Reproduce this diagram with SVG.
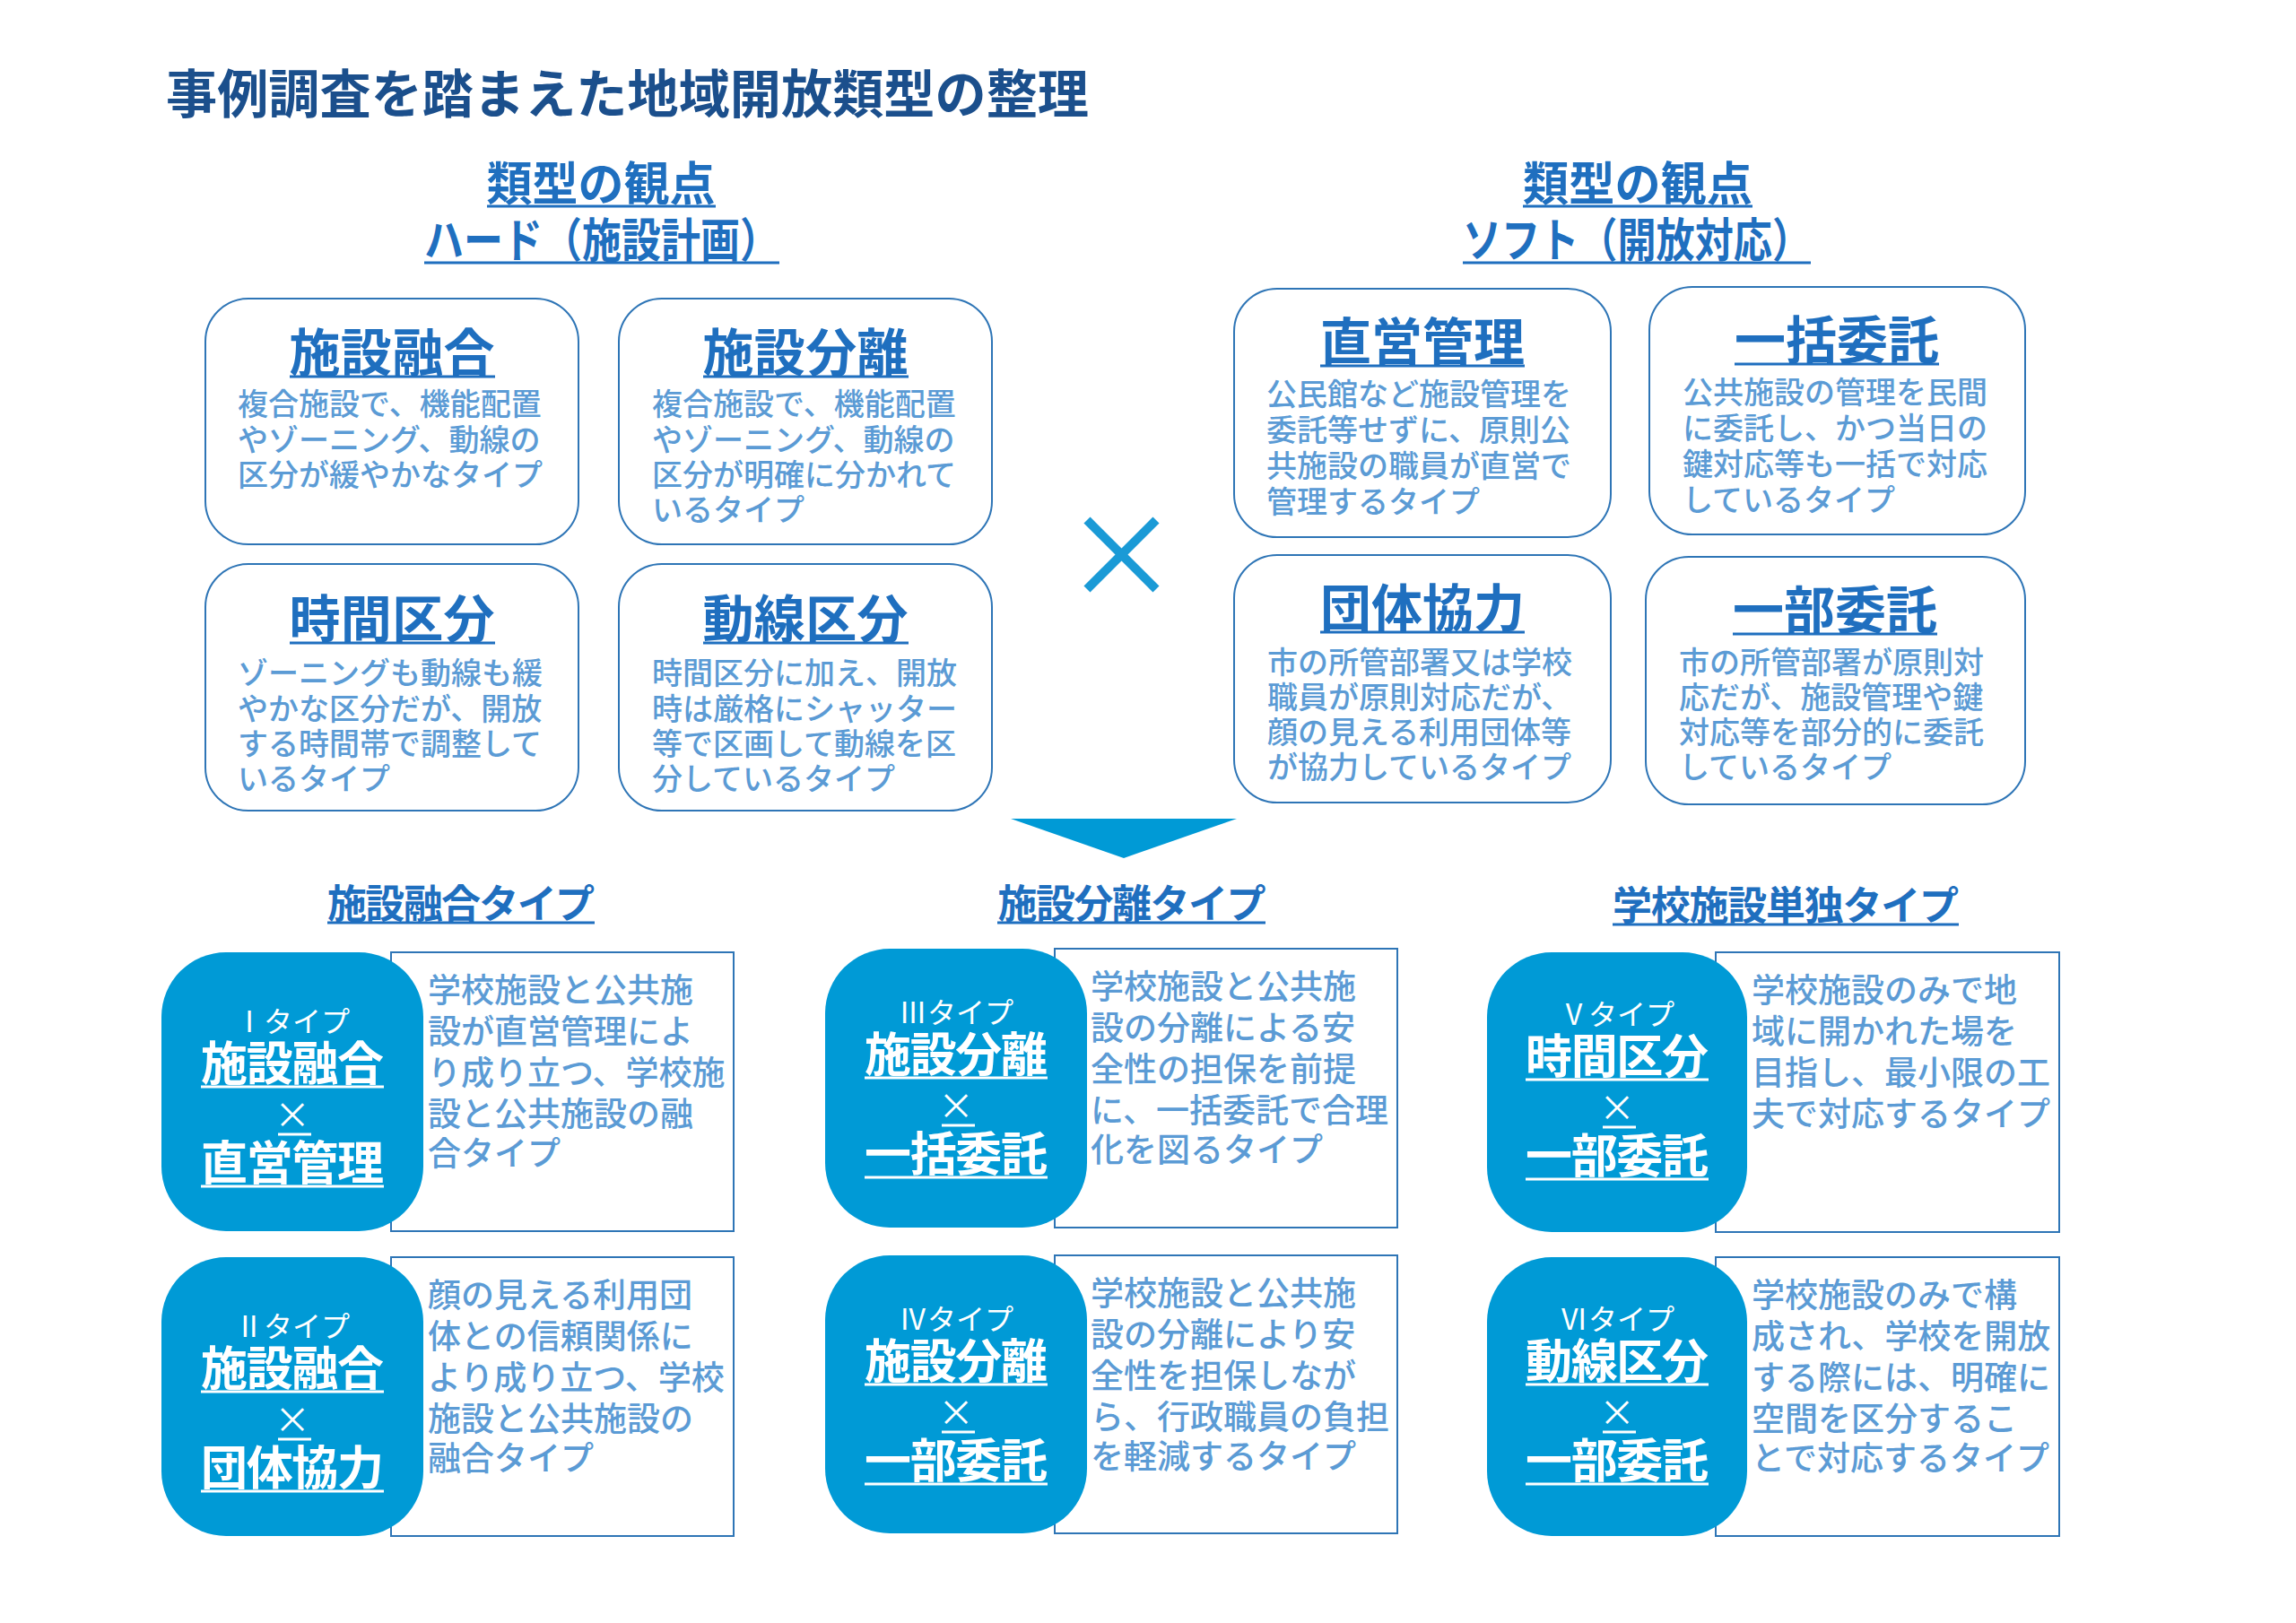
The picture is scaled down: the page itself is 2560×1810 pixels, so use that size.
<svg xmlns="http://www.w3.org/2000/svg" width="2560" height="1810" viewBox="0 0 2560 1810">
<style>
text{font-family:"Noto Sans CJK JP","Noto Sans CJK SC",sans-serif}
.ttl{font-size:58px;font-weight:700;fill:#1b4f8c}
.hd{font-size:52px;font-weight:700;fill:#1f6fbf}
.ul{stroke:#1f6fbf;stroke-width:3}
.box{fill:#fff;stroke:#2e75b6;stroke-width:2}
.bt{font-size:57px;font-weight:700;fill:#1f6fbf;text-anchor:middle}
.bd{font-size:34px;font-weight:500;fill:#5b9bd5}
.ch{font-size:44px;font-weight:700;fill:#1f6fbf;text-anchor:middle}
.wr{fill:#fff;stroke:#2e75b6;stroke-width:2}
.bl{fill:#009ad6}
.tp{font-family:"Liberation Serif","Noto Sans CJK JP",serif;font-size:32px;fill:#fff;text-anchor:middle}
.wt{font-size:52px;font-weight:700;fill:#fff;text-anchor:middle}
.wx{font-size:40px;fill:#fff;text-anchor:middle}
.wl{stroke:#fff;stroke-width:3}
.cd{font-size:37px;font-weight:500;fill:#5b9bd5}
</style>
<text class="ttl" x="185" y="126" textLength="1029" lengthAdjust="spacingAndGlyphs">事例調査を踏まえた地域開放類型の整理</text>

<g id="hard-header">
<text class="hd" x="670" y="224" text-anchor="middle" textLength="255" lengthAdjust="spacingAndGlyphs">類型の観点</text>
<line class="ul" x1="543" y1="230" x2="798" y2="230"/>
<text class="hd" x="671" y="287" text-anchor="middle" textLength="396" lengthAdjust="spacingAndGlyphs">ハード（施設計画）</text>
<line class="ul" x1="473" y1="293" x2="869" y2="293"/>
</g>
<g id="soft-header">
<text class="hd" x="1826" y="224" text-anchor="middle" textLength="256" lengthAdjust="spacingAndGlyphs">類型の観点</text>
<line class="ul" x1="1698" y1="230" x2="1954" y2="230"/>
<text class="hd" x="1825" y="287" text-anchor="middle" textLength="388" lengthAdjust="spacingAndGlyphs">ソフト（開放対応）</text>
<line class="ul" x1="1631" y1="293" x2="2019" y2="293"/>
</g>

<g id="h1">
<rect class="box" x="229" y="333" width="416" height="274" rx="48"/>
<text class="bt" x="437" y="414" textLength="229">施設融合</text>
<line class="ul" x1="323" y1="420" x2="552" y2="420"/>
<text class="bd" x="265" y="463">複合施設で、機能配置</text>
<text class="bd" x="265" y="503">やゾーニング、動線の</text>
<text class="bd" x="265" y="542">区分が緩やかなタイプ</text>
</g>
<g id="h2">
<rect class="box" x="690" y="333" width="416" height="274" rx="48"/>
<text class="bt" x="898" y="414" textLength="229">施設分離</text>
<line class="ul" x1="784" y1="420" x2="1013" y2="420"/>
<text class="bd" x="727" y="463">複合施設で、機能配置</text>
<text class="bd" x="727" y="503">やゾーニング、動線の</text>
<text class="bd" x="727" y="542">区分が明確に分かれて</text>
<text class="bd" x="727" y="581">いるタイプ</text>
</g>
<g id="h3">
<rect class="box" x="229" y="629" width="416" height="275" rx="48"/>
<text class="bt" x="437" y="711" textLength="229">時間区分</text>
<line class="ul" x1="323" y1="717" x2="552" y2="717"/>
<text class="bd" x="265" y="763">ゾーニングも動線も緩</text>
<text class="bd" x="265" y="803">やかな区分だが、開放</text>
<text class="bd" x="265" y="842">する時間帯で調整して</text>
<text class="bd" x="265" y="881">いるタイプ</text>
</g>
<g id="h4">
<rect class="box" x="690" y="629" width="416" height="275" rx="48"/>
<text class="bt" x="898" y="711" textLength="229">動線区分</text>
<line class="ul" x1="784" y1="717" x2="1013" y2="717"/>
<text class="bd" x="727" y="763">時間区分に加え、開放</text>
<text class="bd" x="727" y="803">時は厳格にシャッター</text>
<text class="bd" x="727" y="842">等で区画して動線を区</text>
<text class="bd" x="727" y="881">分しているタイプ</text>
</g>

<g id="s1">
<rect class="box" x="1376" y="322" width="420" height="277" rx="48"/>
<text class="bt" x="1586" y="402" textLength="228">直営管理</text>
<line class="ul" x1="1472" y1="408" x2="1700" y2="408"/>
<text class="bd" x="1412" y="452">公民館など施設管理を</text>
<text class="bd" x="1412" y="492">委託等せずに、原則公</text>
<text class="bd" x="1412" y="532">共施設の職員が直営で</text>
<text class="bd" x="1412" y="572">管理するタイプ</text>
</g>
<g id="s2">
<rect class="box" x="1839" y="320" width="419" height="276" rx="48"/>
<text class="bt" x="2048" y="400" textLength="228">一括委託</text>
<line class="ul" x1="1934" y1="406" x2="2162" y2="406"/>
<text class="bd" x="1876" y="450">公共施設の管理を民間</text>
<text class="bd" x="1876" y="490">に委託し、かつ当日の</text>
<text class="bd" x="1876" y="530">鍵対応等も一括で対応</text>
<text class="bd" x="1876" y="570">しているタイプ</text>
</g>
<g id="s3">
<rect class="box" x="1376" y="619" width="420" height="276" rx="48"/>
<text class="bt" x="1586" y="699" textLength="228">団体協力</text>
<line class="ul" x1="1472" y1="705" x2="1700" y2="705"/>
<text class="bd" x="1413" y="751">市の所管部署又は学校</text>
<text class="bd" x="1413" y="790">職員が原則対応だが、</text>
<text class="bd" x="1413" y="829">顔の見える利用団体等</text>
<text class="bd" x="1413" y="868">が協力しているタイプ</text>
</g>
<g id="s4">
<rect class="box" x="1835" y="621" width="423" height="276" rx="48"/>
<text class="bt" x="2046" y="701" textLength="228">一部委託</text>
<line class="ul" x1="1932" y1="707" x2="2160" y2="707"/>
<text class="bd" x="1872" y="751">市の所管部署が原則対</text>
<text class="bd" x="1872" y="790">応だが、施設管理や鍵</text>
<text class="bd" x="1872" y="829">対応等を部分的に委託</text>
<text class="bd" x="1872" y="868">しているタイプ</text>
</g>

<g id="connectors">
<line x1="1212" y1="580" x2="1289" y2="657" stroke="#1a9ad6" stroke-width="10"/>
<line x1="1289" y1="580" x2="1212" y2="657" stroke="#1a9ad6" stroke-width="10"/>
<polygon points="1127,913 1379,913 1253,957" fill="#009ad6"/>
</g>

<g id="col-headers">
<text class="ch" x="514" y="1024" textLength="298">施設融合タイプ</text>
<line class="ul" x1="365" y1="1029" x2="663" y2="1029"/>
<text class="ch" x="1262" y="1024" textLength="299">施設分離タイプ</text>
<line class="ul" x1="1112" y1="1029" x2="1411" y2="1029"/>
<text class="ch" x="1991" y="1026" textLength="386">学校施設単独タイプ</text>
<line class="ul" x1="1798" y1="1031" x2="2184" y2="1031"/>
</g>

<g id="type1">
<rect class="wr" x="436" y="1062" width="382" height="311"/>
<rect class="bl" x="180" y="1062" width="292" height="311" rx="72"/>
<text class="tp" x="326" y="1151">Ⅰタイプ</text>
<text class="wt" x="326" y="1205" textLength="204">施設融合</text>
<line class="wl" x1="224" y1="1212" x2="428" y2="1212"/>
<text class="wx" x="326" y="1258">×</text>
<line class="wl" x1="310" y1="1265" x2="347" y2="1265"/>
<text class="wt" x="326" y="1316" textLength="204">直営管理</text>
<line class="wl" x1="224" y1="1323" x2="428" y2="1323"/>
<text class="cd" x="477" y="1118">学校施設と公共施</text>
<text class="cd" x="477" y="1164">設が直営管理によ</text>
<text class="cd" x="477" y="1210">り成り立つ、学校施</text>
<text class="cd" x="477" y="1256">設と公共施設の融</text>
<text class="cd" x="477" y="1300">合タイプ</text>
</g>
<g id="type2">
<rect class="wr" x="436" y="1402" width="382" height="311"/>
<rect class="bl" x="180" y="1402" width="292" height="311" rx="72"/>
<text class="tp" x="326" y="1491">Ⅱタイプ</text>
<text class="wt" x="326" y="1545" textLength="204">施設融合</text>
<line class="wl" x1="224" y1="1552" x2="428" y2="1552"/>
<text class="wx" x="326" y="1598">×</text>
<line class="wl" x1="310" y1="1605" x2="347" y2="1605"/>
<text class="wt" x="326" y="1656" textLength="204">団体協力</text>
<line class="wl" x1="224" y1="1663" x2="428" y2="1663"/>
<text class="cd" x="477" y="1458">顔の見える利用団</text>
<text class="cd" x="477" y="1504">体との信頼関係に</text>
<text class="cd" x="477" y="1550">より成り立つ、学校</text>
<text class="cd" x="477" y="1596">施設と公共施設の</text>
<text class="cd" x="477" y="1640">融合タイプ</text>
</g>
<g id="type3">
<rect class="wr" x="1176" y="1058" width="382" height="311"/>
<rect class="bl" x="920" y="1058" width="292" height="311" rx="72"/>
<text class="tp" x="1066" y="1141">Ⅲタイプ</text>
<text class="wt" x="1066" y="1195" textLength="204">施設分離</text>
<line class="wl" x1="964" y1="1202" x2="1168" y2="1202"/>
<text class="wx" x="1066" y="1248">×</text>
<line class="wl" x1="1050" y1="1255" x2="1087" y2="1255"/>
<text class="wt" x="1066" y="1306" textLength="204">一括委託</text>
<line class="wl" x1="964" y1="1313" x2="1168" y2="1313"/>
<text class="cd" x="1216" y="1114">学校施設と公共施</text>
<text class="cd" x="1216" y="1160">設の分離による安</text>
<text class="cd" x="1216" y="1206">全性の担保を前提</text>
<text class="cd" x="1216" y="1252">に、一括委託で合理</text>
<text class="cd" x="1216" y="1296">化を図るタイプ</text>
</g>
<g id="type4">
<rect class="wr" x="1176" y="1400" width="382" height="310"/>
<rect class="bl" x="920" y="1400" width="292" height="310" rx="72"/>
<text class="tp" x="1066" y="1483">Ⅳタイプ</text>
<text class="wt" x="1066" y="1537" textLength="204">施設分離</text>
<line class="wl" x1="964" y1="1544" x2="1168" y2="1544"/>
<text class="wx" x="1066" y="1590">×</text>
<line class="wl" x1="1050" y1="1597" x2="1087" y2="1597"/>
<text class="wt" x="1066" y="1648" textLength="204">一部委託</text>
<line class="wl" x1="964" y1="1655" x2="1168" y2="1655"/>
<text class="cd" x="1216" y="1456">学校施設と公共施</text>
<text class="cd" x="1216" y="1502">設の分離により安</text>
<text class="cd" x="1216" y="1548">全性を担保しなが</text>
<text class="cd" x="1216" y="1594">ら、行政職員の負担</text>
<text class="cd" x="1216" y="1638">を軽減するタイプ</text>
</g>
<g id="type5">
<rect class="wr" x="1913" y="1062" width="383" height="312"/>
<rect class="bl" x="1658" y="1062" width="290" height="312" rx="72"/>
<text class="tp" x="1803" y="1143">Ⅴタイプ</text>
<text class="wt" x="1803" y="1197" textLength="204">時間区分</text>
<line class="wl" x1="1701" y1="1204" x2="1905" y2="1204"/>
<text class="wx" x="1803" y="1250">×</text>
<line class="wl" x1="1787" y1="1257" x2="1824" y2="1257"/>
<text class="wt" x="1803" y="1308" textLength="204">一部委託</text>
<line class="wl" x1="1701" y1="1315" x2="1905" y2="1315"/>
<text class="cd" x="1953" y="1118">学校施設のみで地</text>
<text class="cd" x="1953" y="1164">域に開かれた場を</text>
<text class="cd" x="1953" y="1210">目指し、最小限の工</text>
<text class="cd" x="1953" y="1256">夫で対応するタイプ</text>
</g>
<g id="type6">
<rect class="wr" x="1913" y="1402" width="383" height="311"/>
<rect class="bl" x="1658" y="1402" width="290" height="311" rx="72"/>
<text class="tp" x="1803" y="1483">Ⅵタイプ</text>
<text class="wt" x="1803" y="1537" textLength="204">動線区分</text>
<line class="wl" x1="1701" y1="1544" x2="1905" y2="1544"/>
<text class="wx" x="1803" y="1590">×</text>
<line class="wl" x1="1787" y1="1597" x2="1824" y2="1597"/>
<text class="wt" x="1803" y="1648" textLength="204">一部委託</text>
<line class="wl" x1="1701" y1="1655" x2="1905" y2="1655"/>
<text class="cd" x="1953" y="1458">学校施設のみで構</text>
<text class="cd" x="1953" y="1504">成され、学校を開放</text>
<text class="cd" x="1953" y="1550">する際には、明確に</text>
<text class="cd" x="1953" y="1596">空間を区分するこ</text>
<text class="cd" x="1953" y="1640">とで対応するタイプ</text>
</g>
</svg>
